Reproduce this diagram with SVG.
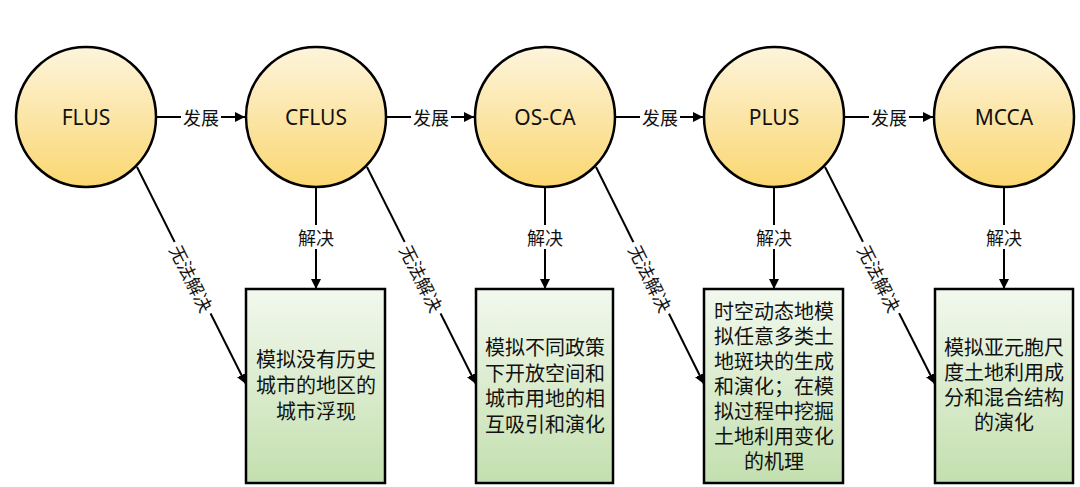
<svg xmlns="http://www.w3.org/2000/svg" width="1080" height="487" viewBox="0 0 1080 487">
<defs>
<linearGradient id="gc" x1="0" y1="0" x2="0" y2="1">
<stop offset="0" stop-color="#fdf4dc"/>
<stop offset="1" stop-color="#fad771"/>
</linearGradient>
<linearGradient id="gb" x1="0" y1="0" x2="0" y2="1">
<stop offset="0" stop-color="#f2f8ee"/>
<stop offset="1" stop-color="#c3dfae"/>
</linearGradient>
<marker id="ah" viewBox="0 0 10 10" refX="10" refY="5" markerWidth="5" markerHeight="5" orient="auto" markerUnits="strokeWidth">
<path d="M0,0 L10,5 L0,10 z" fill="#000"/>
</marker>
<style>
.c{fill:url(#gc);stroke:#000;stroke-width:2.5}
.b{fill:url(#gb);stroke:#000;stroke-width:2.5}
.ct{font-family:"Noto Sans","Open Sans",sans-serif;font-size:21px;fill:#111;text-anchor:middle;dominant-baseline:central}
.bt{font-family:"Noto Sans CJK SC",sans-serif;font-size:20px;fill:#111;text-anchor:middle}
.l{stroke:#000;stroke-width:2;fill:none;marker-end:url(#ah)}
.lt{font-family:"Noto Sans CJK SC",sans-serif;font-size:18px;fill:#111;text-anchor:middle;dominant-baseline:central}
.bg{fill:#fff}
</style>
</defs>
<rect width="1080" height="487" fill="#fff"/>
<g id="connectors">
<line class="l" x1="156" y1="117" x2="245" y2="117"/>
<line class="l" x1="386" y1="117" x2="474" y2="117"/>
<line class="l" x1="615" y1="117" x2="703" y2="117"/>
<line class="l" x1="845" y1="117" x2="933" y2="117"/>
<rect class="bg" x="181" y="105" width="40" height="24"/>
<rect class="bg" x="411" y="105" width="40" height="24"/>
<rect class="bg" x="640" y="105" width="40" height="24"/>
<rect class="bg" x="869" y="105" width="40" height="24"/>
<text class="lt" x="201" y="117">发展</text>
<text class="lt" x="431" y="117">发展</text>
<text class="lt" x="660" y="117">发展</text>
<text class="lt" x="889" y="117">发展</text>
<line class="l" x1="316" y1="187" x2="316" y2="289"/>
<line class="l" x1="545" y1="187" x2="545" y2="289"/>
<line class="l" x1="774" y1="187" x2="774" y2="289"/>
<line class="l" x1="1004" y1="187" x2="1004" y2="289"/>
<rect class="bg" x="296" y="225" width="40" height="24"/>
<rect class="bg" x="525" y="225" width="40" height="24"/>
<rect class="bg" x="754" y="225" width="40" height="24"/>
<rect class="bg" x="984" y="225" width="40" height="24"/>
<text class="lt" x="316" y="237">解决</text>
<text class="lt" x="545" y="237">解决</text>
<text class="lt" x="774" y="237">解决</text>
<text class="lt" x="1004" y="237">解决</text>
<line class="l" x1="137" y1="167" x2="246" y2="384"/>
<line class="l" x1="367" y1="167" x2="476" y2="384"/>
<line class="l" x1="596" y1="167" x2="704" y2="384"/>
<line class="l" x1="825" y1="167" x2="935" y2="384"/>
<g transform="translate(192,278) rotate(63.4)"><rect class="bg" x="-40" y="-11" width="80" height="22"/><text class="lt" x="0" y="0">无法解决</text></g>
<g transform="translate(422,278) rotate(63.4)"><rect class="bg" x="-40" y="-11" width="80" height="22"/><text class="lt" x="0" y="0">无法解决</text></g>
<g transform="translate(651,278) rotate(63.4)"><rect class="bg" x="-40" y="-11" width="80" height="22"/><text class="lt" x="0" y="0">无法解决</text></g>
<g transform="translate(880,278) rotate(63.4)"><rect class="bg" x="-40" y="-11" width="80" height="22"/><text class="lt" x="0" y="0">无法解决</text></g>
</g>
<g id="n-flus"><circle class="c" cx="86" cy="117" r="70"/><text class="ct" x="86" y="117">FLUS</text></g>
<g id="n-cflus"><circle class="c" cx="316" cy="117" r="70"/><text class="ct" x="316" y="117">CFLUS</text></g>
<g id="n-osca"><circle class="c" cx="545" cy="117" r="70"/><text class="ct" x="545" y="117">OS-CA</text></g>
<g id="n-plus"><circle class="c" cx="774" cy="117" r="70"/><text class="ct" x="774" y="117">PLUS</text></g>
<g id="n-mcca"><circle class="c" cx="1004" cy="117" r="70"/><text class="ct" x="1004" y="117">MCCA</text></g>
<g id="b1"><rect class="b" x="246" y="289" width="139" height="194"/>
<text class="bt"><tspan x="316" y="367">模拟没有历史</tspan><tspan x="316" dy="26">城市的地区的</tspan><tspan x="316" dy="26">城市浮现</tspan></text></g>
<g id="b2"><rect class="b" x="476" y="289" width="137" height="194"/>
<text class="bt"><tspan x="545" y="355">模拟不同政策</tspan><tspan x="545" dy="25.7">下开放空间和</tspan><tspan x="545" dy="25.7">城市用地的相</tspan><tspan x="545" dy="25.7">互吸引和演化</tspan></text></g>
<g id="b3"><rect class="b" x="704" y="289" width="139" height="194"/>
<text class="bt"><tspan x="774" y="319">时空动态地模</tspan><tspan x="774" dy="25">拟任意多类土</tspan><tspan x="774" dy="25">地斑块的生成</tspan><tspan x="774" dy="25">和演化；在模</tspan><tspan x="774" dy="25">拟过程中挖掘</tspan><tspan x="774" dy="25">土地利用变化</tspan><tspan x="774" dy="25">的机理</tspan></text></g>
<g id="b4"><rect class="b" x="935" y="289" width="138" height="194"/>
<text class="bt"><tspan x="1004" y="355">模拟亚元胞尺</tspan><tspan x="1004" dy="25">度土地利用成</tspan><tspan x="1004" dy="25">分和混合结构</tspan><tspan x="1004" dy="25">的演化</tspan></text></g>
</svg>
